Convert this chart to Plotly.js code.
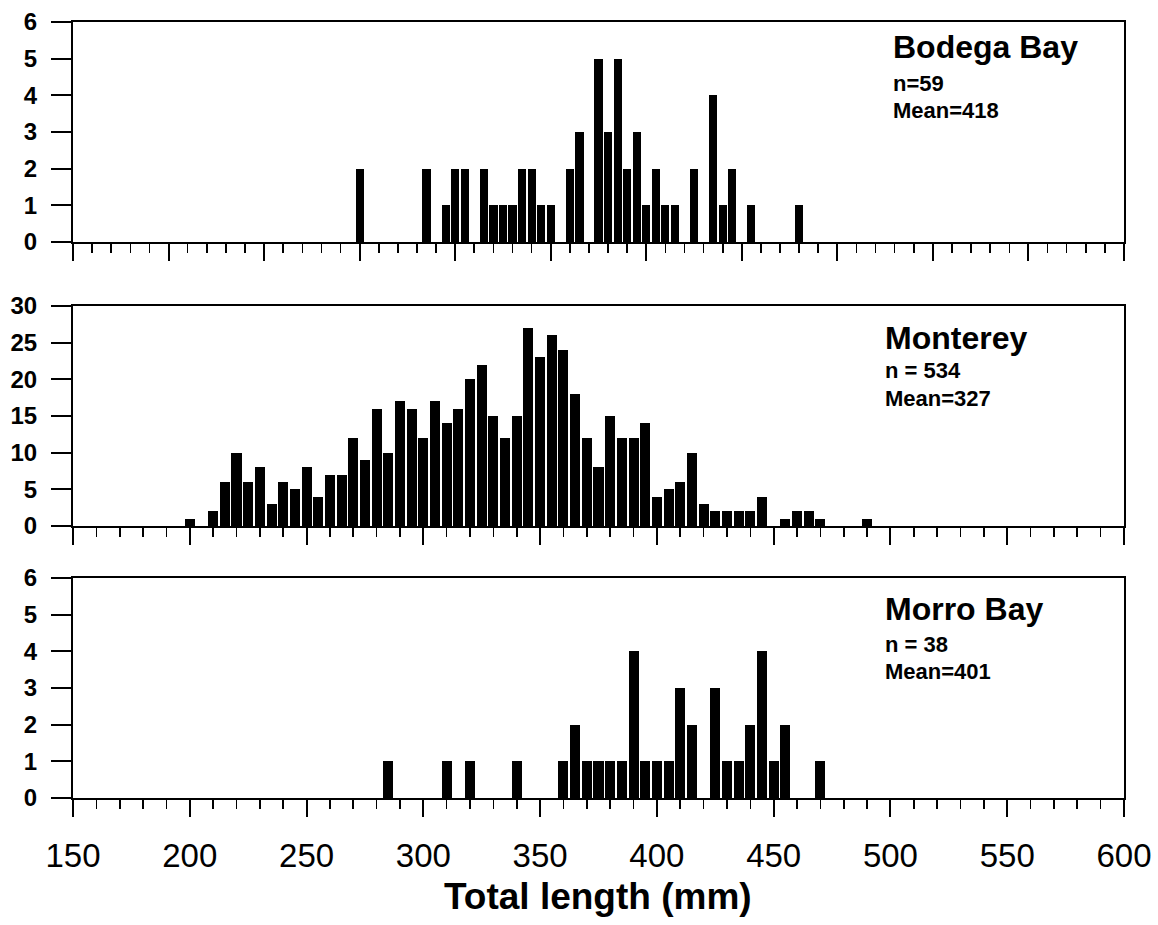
<!DOCTYPE html>
<html>
<head>
<meta charset="utf-8">
<script src="https://cdn.plot.ly/plotly-3.0.1.min.js"></script>
<style>html,body{margin:0;padding:0;background:#fff;}#chart{width:1158px;height:925px;}</style>
</head>
<body>
<div id="chart"></div>
<script>
// Bodega Bay (5 mm length classes, class centre in mm)
const bodegaLength = [300,335,345,350,355,365,370,375,380,385,390,395,400,410,415,425,430,435,440,445,450,455,460,465,475,485,490,495,505,530];
const bodegaCount  = [2,2,1,2,2,2,1,1,1,2,2,1,1,2,3,5,3,5,2,3,1,2,1,1,2,4,1,2,1,1];

// Monterey
const montereyLength = [200,210,215,220,225,230,235,240,245,250,255,260,265,270,275,280,285,290,295,300,305,310,315,320,325,330,335,340,345,350,355,360,365,370,375,380,385,390,395,400,405,410,415,420,425,430,435,440,445,455,460,465,470,490];
const montereyCount  = [1,2,6,10,6,8,3,6,5,8,4,7,7,12,9,16,10,17,16,12,17,14,16,20,22,15,12,15,27,23,26,24,18,12,8,15,12,12,14,4,5,6,10,3,2,2,2,2,4,1,2,2,1,1];

// Morro Bay
const morroLength = [285,310,320,340,360,365,370,375,380,385,390,395,400,405,410,415,425,430,435,440,445,450,455,470];
const morroCount  = [1,1,1,1,1,2,1,1,1,1,4,1,1,1,3,2,3,1,1,2,4,1,2,1];

// Panel labels
const siteNames = ["Bodega Bay","Monterey","Morro Bay"];
const siteN     = ["n=59","n = 534","n = 38"];
const siteMean  = ["Mean=418","Mean=327","Mean=401"];

// x tick labels (bottom panel)
const xTickVals = [150,200,250,300,350,400,450,500,550,600];
const xTickText = ["150","200","250","300","350","400","450","500","550","600"];
const xTitle = "Total length (mm)";

const FONT = "Arial, 'Liberation Sans', Helvetica, sans-serif";

function bar(x, y, xa, ya){
  return {type:'bar', x:x, y:y, xaxis:xa, yaxis:ya, width:4.3,
    marker:{color:'#000', line:{width:0}}, hoverinfo:'x+y', showlegend:false};
}

const data = [
  bar(bodegaLength, bodegaCount, 'x', 'y'),
  bar(montereyLength, montereyCount, 'x2', 'y2'),
  bar(morroLength, morroCount, 'x3', 'y3')
];

function xax(range, anchor, labels){
  const a = {
    anchor:anchor, domain:[0,1], range:range, tickmode:'linear', tick0:150, dtick:50,
    ticks:'outside', ticklen:17, tickwidth:2, tickcolor:'#000',
    showline:true, linewidth:2, linecolor:'#000', mirror:true,
    showgrid:false, zeroline:false, fixedrange:true,
    minor:{dtick:10, tick0:150, ticks:'outside', ticklen:9, tickwidth:1.6, tickcolor:'#000', showgrid:false},
    showticklabels:labels
  };
  if(labels){
    a.tickmode='array'; a.tickvals=xTickVals; a.ticktext=xTickText;
    a.tickfont={family:FONT, size:33, color:'#000'};
    a.ticklabelstandoff=10;
  }
  return a;
}
function yax(range, dtick, domain, anchor){
  return {
    anchor:anchor, domain:domain, range:range, tickmode:'linear', tick0:0, dtick:dtick,
    ticks:'outside', ticklen:20, tickwidth:2, tickcolor:'#000',
    showline:true, linewidth:2, linecolor:'#000', mirror:true,
    showgrid:false, zeroline:false, fixedrange:true,
    tickfont:{family:FONT, size:24, color:'#000', weight:'bold'},
    ticklabelstandoff:9
  };
}

const top0 = 22, bot0 = 798, H = bot0 - top0;
function py(px){ return (bot0 - px)/H; }
function pxX(px){ return (px - 73)/(1124 - 73); }

const annotations = [];
const headY = [47, 338, 609];
const nY    = [83, 371, 644];
const mY    = [110, 398, 671];
const leftX = [891, 883, 883];
for(let i=0;i<3;i++){
  annotations.push({xref:'paper', yref:'paper', x:pxX(leftX[i]), y:py(headY[i]), xanchor:'left', yanchor:'middle',
    text:siteNames[i], showarrow:false, font:{family:FONT, size:32, color:'#000', weight:'bold'}});
  annotations.push({xref:'paper', yref:'paper', x:pxX(leftX[i]), y:py(nY[i]), xanchor:'left', yanchor:'middle',
    text:siteN[i], showarrow:false, font:{family:FONT, size:22, color:'#000', weight:'bold'}});
  annotations.push({xref:'paper', yref:'paper', x:pxX(leftX[i]), y:py(mY[i]), xanchor:'left', yanchor:'middle',
    text:siteMean[i], showarrow:false, font:{family:FONT, size:22, color:'#000', weight:'bold'}});
}
annotations.push({xref:'paper', yref:'paper', x:pxX(598), y:py(896), xanchor:'center', yanchor:'middle',
  text:xTitle, showarrow:false, font:{family:FONT, size:37, color:'#000', weight:'bold'}});

const layout = {
  width:1158, height:925,
  margin:{l:73, r:1158-1124, t:top0, b:925-bot0, pad:0},
  paper_bgcolor:'#fff', plot_bgcolor:'#fff',
  bargap:0,
  font:{family:FONT, color:'#000'},
  xaxis: xax([150,700], 'y', false),
  xaxis2: xax([150,600], 'y2', false),
  xaxis3: xax([150,600], 'y3', true),
  yaxis: yax([0,6], 1, [py(242), 1], 'x'),
  yaxis2: yax([0,30], 5, [py(526), py(306)], 'x2'),
  yaxis3: yax([0,6], 1, [0, py(578)], 'x3'),
  annotations: annotations
};

Plotly.newPlot('chart', data, layout, {displayModeBar:false, staticPlot:true});
</script>
</body>
</html>
